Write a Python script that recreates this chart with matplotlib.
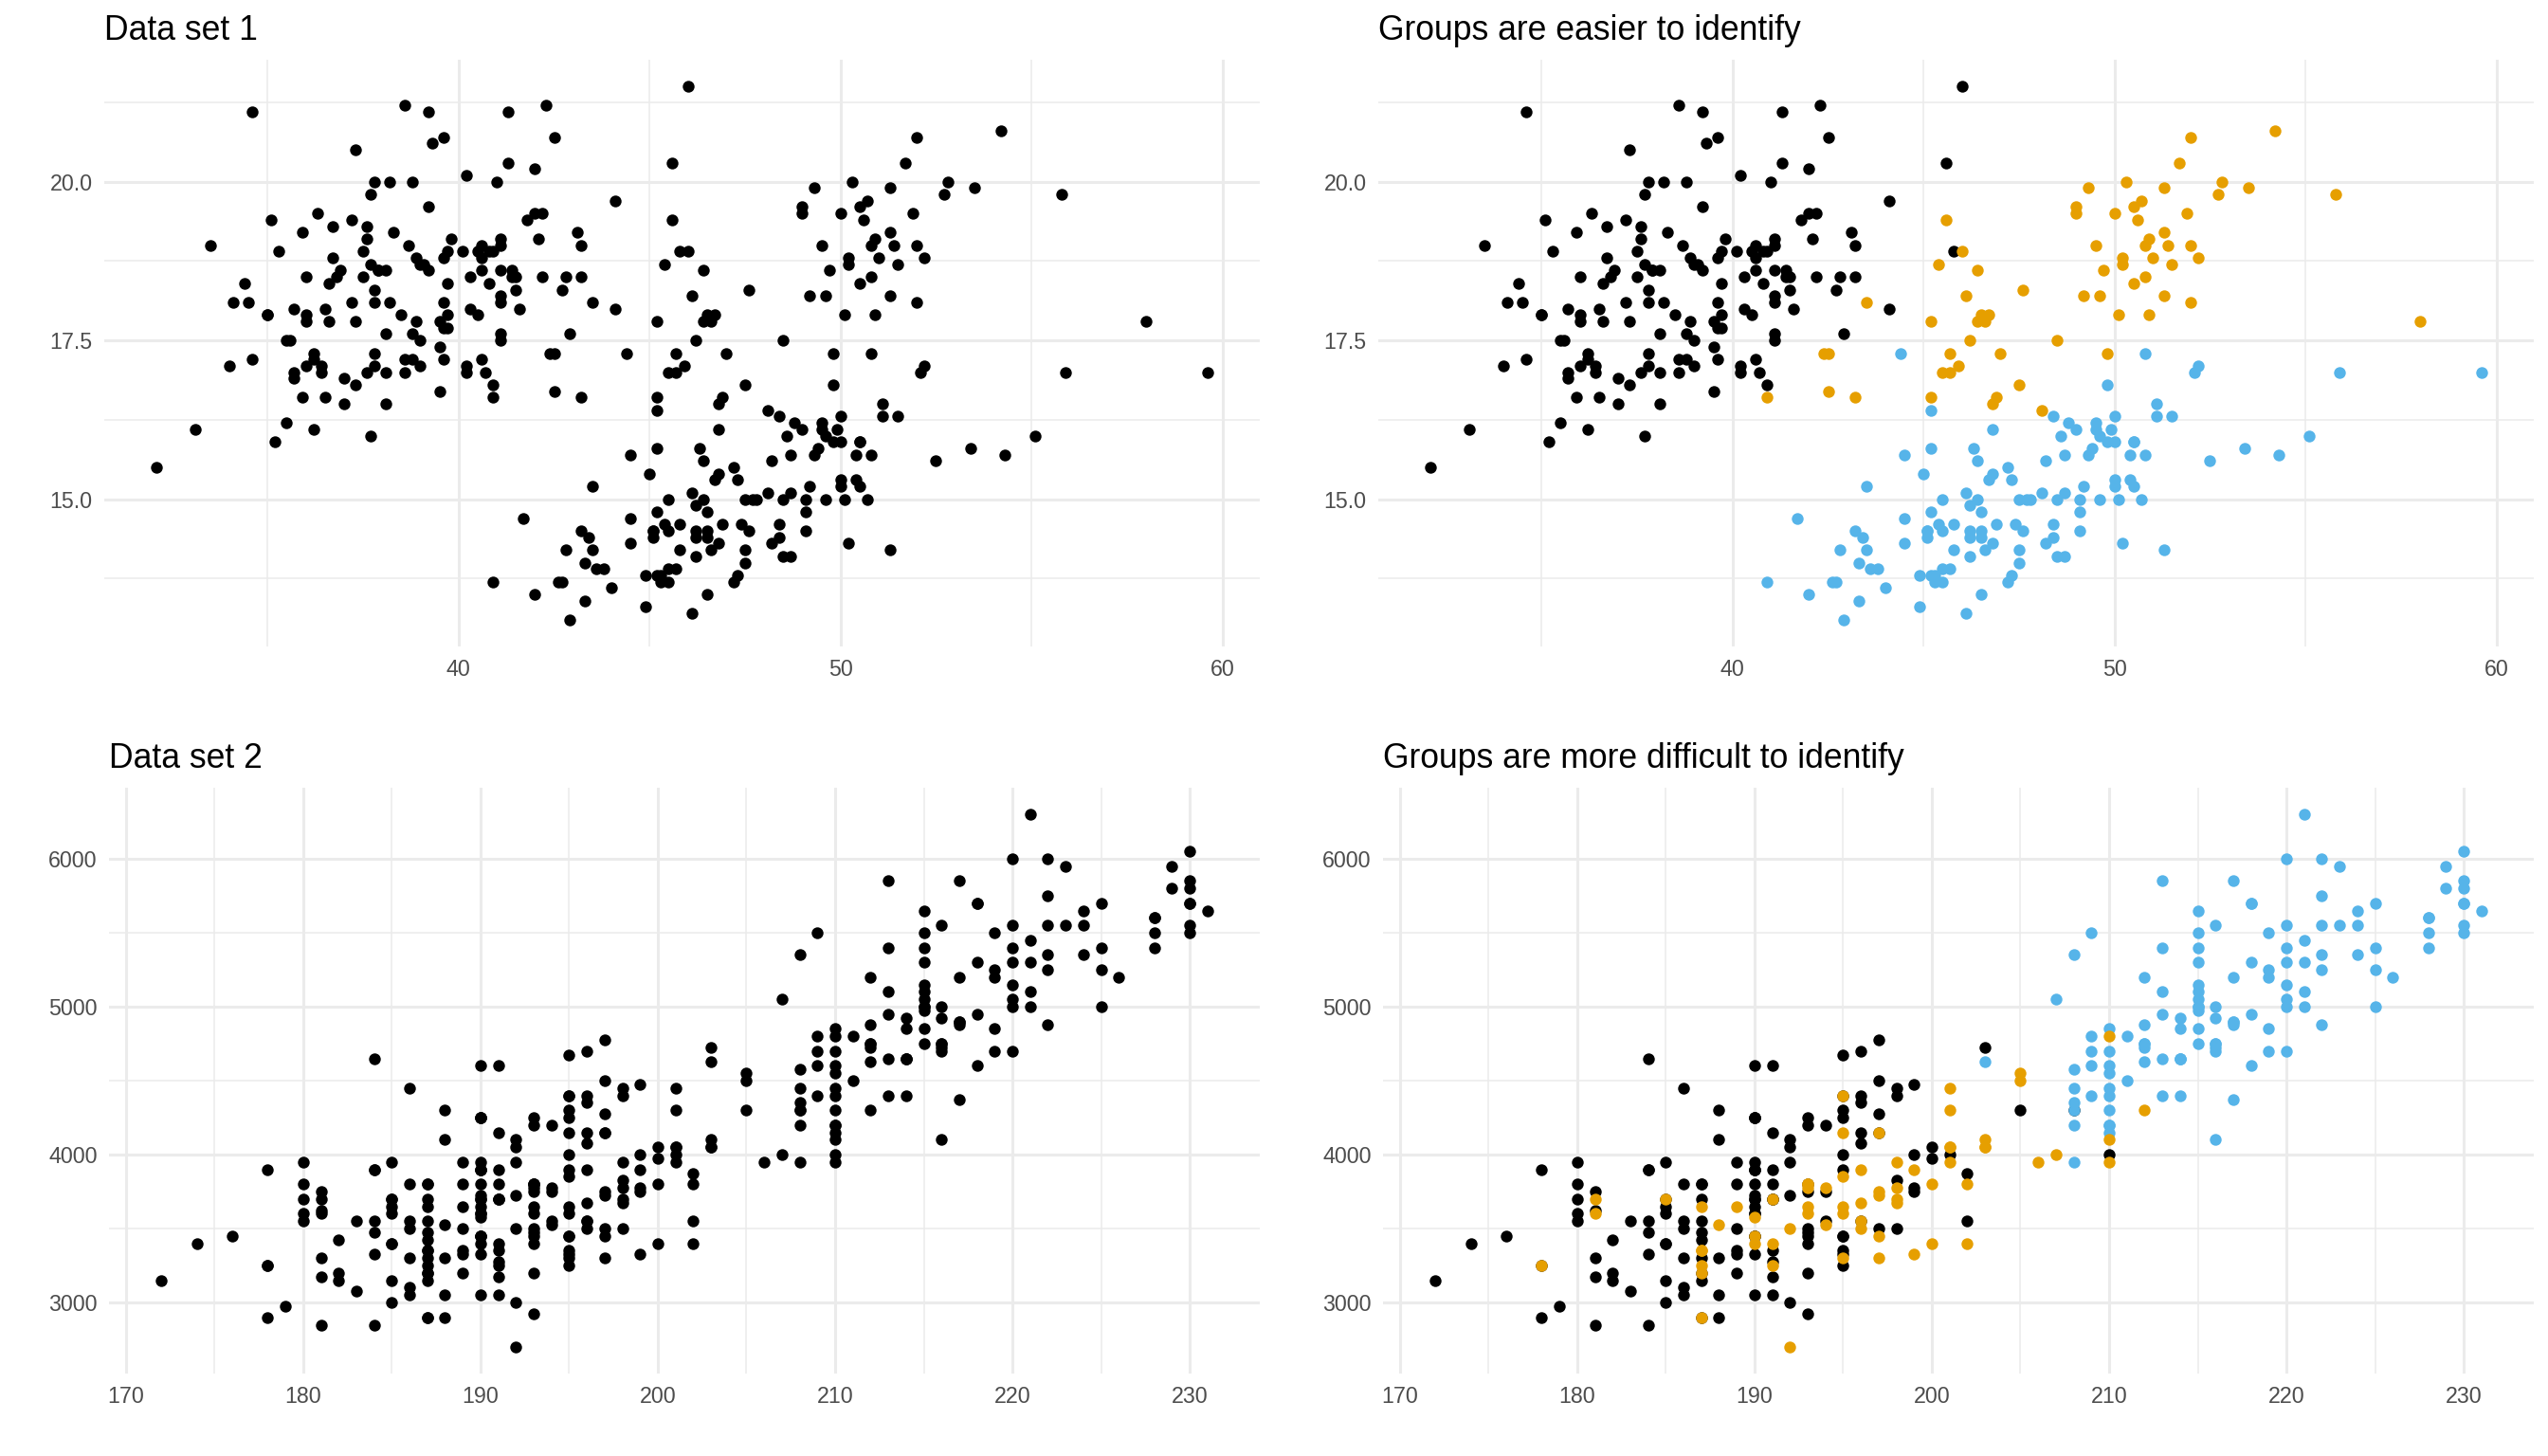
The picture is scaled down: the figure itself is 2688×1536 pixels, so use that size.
import numpy as np
import matplotlib
matplotlib.use("Agg")
import matplotlib.pyplot as plt

plt.rcParams['font.family'] = ['Liberation Sans', 'DejaVu Sans']

# palmer penguins, rows with missing values dropped, in data order
adelie_bill_length = [39.1, 39.5, 40.3, 36.7, 39.3, 38.9, 39.2, 34.1, 42.0, 37.8, 37.8, 41.1, 38.6, 34.6, 36.6, 38.7, 42.5, 34.4, 46.0,
                      37.8, 37.7, 35.9, 38.2, 38.8, 35.3, 40.6, 40.5, 37.9, 40.5,
                      39.5, 37.2, 39.5, 40.9, 36.4, 39.2, 38.8, 42.2, 37.6, 39.8, 36.5, 40.8, 36.0, 44.1, 37.0, 39.6, 41.1, 37.5, 36.0, 42.3,
                      39.6, 40.1, 35.0, 42.0, 34.5, 41.4, 39.0, 40.6, 36.5, 37.6, 35.7, 41.3, 37.6, 41.1, 36.4, 41.6, 35.5, 41.1,
                      35.9, 41.8, 33.5, 39.7, 39.6, 45.8, 35.5, 42.8, 40.9, 37.2, 36.2, 42.1, 34.6, 42.9, 36.7, 35.1,
                      37.3, 41.3, 36.3, 36.9, 38.3, 38.9, 35.7, 41.1, 34.0, 39.6, 36.2, 40.8, 38.1, 40.3, 33.1, 43.2,
                      35.0, 41.0, 37.7, 37.8, 37.9, 39.7, 38.6, 38.2, 38.1, 43.2, 38.1, 45.6, 39.7, 42.2, 39.6, 42.7,
                      38.6, 37.3, 35.7, 41.1, 36.2, 37.7, 40.2, 41.4, 35.2, 40.6, 38.8, 41.5, 39.0, 44.1, 38.5, 43.1,
                      36.8, 37.5, 38.1, 41.1, 35.6, 40.2, 37.0, 39.7, 40.2, 40.6, 32.1, 40.7, 37.3, 39.0, 39.2, 36.6, 36.0, 37.8, 36.0, 41.5]
adelie_bill_depth = [18.7, 17.4, 18.0, 19.3, 20.6, 17.8, 19.6, 18.1, 20.2, 17.1, 17.3, 17.6, 21.2, 21.1, 17.8, 19.0, 20.7, 18.4, 21.5,
                     18.3, 18.7, 19.2, 18.1, 17.2, 18.9, 18.6, 17.9, 18.6, 18.9,
                     16.7, 18.1, 17.8, 18.9, 17.0, 21.1, 20.0, 18.5, 19.3, 19.1, 18.0, 18.4, 18.5, 19.7, 16.9, 18.8, 19.0, 18.9, 17.9, 21.2,
                     17.7, 18.9, 17.9, 19.5, 18.1, 18.6, 17.5, 18.8, 16.6, 19.1, 16.9, 21.1, 17.0, 18.2, 17.1, 18.0, 16.2, 19.1,
                     16.6, 19.4, 19.0, 18.4, 17.2, 18.9, 17.5, 18.5, 16.8, 19.4, 16.1, 19.1, 17.2, 17.6, 18.8, 19.4,
                     17.8, 20.3, 19.5, 18.6, 19.2, 18.8, 18.0, 18.1, 17.1, 18.1, 17.3, 18.9, 18.6, 18.5, 16.1, 18.5,
                     17.9, 20.0, 16.0, 20.0, 18.6, 18.9, 17.2, 20.0, 17.0, 19.0, 16.5, 20.3, 17.7, 19.5, 20.7, 18.3,
                     17.0, 20.5, 17.0, 18.6, 17.2, 19.8, 17.0, 18.5, 15.9, 19.0, 17.6, 18.3, 17.1, 18.0, 17.9, 19.2,
                     18.5, 18.5, 17.6, 17.5, 17.5, 20.1, 16.5, 17.9, 17.1, 17.2, 15.5, 17.0, 16.8, 18.7, 18.6, 18.4, 17.8, 18.1, 17.1, 18.5]
adelie_flipper = [181, 186, 195, 193, 190, 181, 195, 193, 190, 186, 180, 182, 191, 198, 185, 195, 197, 184, 194,
                  174, 180, 189, 185, 180, 187, 183, 187, 172, 180,
                  178, 178, 188, 184, 195, 196, 190, 180, 181, 184, 182, 195, 186, 196, 185, 190, 182, 179, 190, 191,
                  186, 188, 190, 200, 187, 191, 186, 193, 181, 194, 185, 195, 185, 192, 184, 192, 195, 188,
                  190, 198, 190, 190, 196, 197, 190, 195, 191, 184, 187, 195, 189, 196, 187, 193,
                  191, 194, 190, 189, 189, 190, 202, 205, 185, 186, 187, 208, 190, 196, 178, 192,
                  192, 203, 183, 190, 193, 184, 199, 190, 181, 197, 198, 191, 193, 197, 191, 196,
                  188, 199, 189, 189, 187, 198, 176, 202, 186, 199, 191, 195, 191, 210, 190, 197,
                  193, 199, 187, 190, 191, 200, 185, 193, 193, 187, 188, 190, 192, 185, 190, 184, 195, 193, 187, 201]
adelie_mass = [3750, 3800, 3250, 3450, 3650, 3625, 4675, 3475, 4250, 3300, 3700, 3200, 3800, 4400, 3700, 3450, 4500, 3325, 4200,
               3400, 3600, 3800, 3950, 3800, 3800, 3550, 3200, 3150, 3950,
               3250, 3900, 3300, 3900, 3325, 4150, 3950, 3550, 3300, 4650, 3150, 3900, 3100, 4400, 3000, 4600, 3425, 2975, 3450, 4150,
               3500, 4300, 3450, 4050, 2900, 3700, 3550, 3800, 2850, 3750, 3150, 4400, 3600, 4050, 2850, 3950, 3350, 4100,
               3050, 4450, 3600, 3900, 3550, 4150, 3700, 4250, 3700, 3900, 3550, 4000, 3200, 4700, 3800, 4200,
               3350, 3550, 3800, 3500, 3950, 3600, 3550, 4300, 3400, 4450, 3300, 4300, 3700, 4350, 2900, 4100,
               3725, 4725, 3075, 4250, 2925, 3550, 3750, 3900, 3175, 4775, 3825, 4600, 3200, 4275, 3900, 4075,
               2900, 3775, 3350, 3325, 3150, 3500, 3450, 3875, 3050, 4000, 3275, 4300, 3050, 4000, 3325, 3500,
               3500, 4475, 3425, 3900, 3175, 3975, 3400, 4250, 3400, 3475, 3050, 3725, 3000, 3650, 4250, 3475, 3450, 3750, 3700, 4000]

gentoo_bill_length = [46.1, 50.0, 48.7, 50.0, 47.6, 46.5, 45.4, 46.7, 43.3, 46.8, 40.9, 49.0, 45.5, 48.4, 45.8, 49.3, 42.0, 49.2,
                      46.2, 48.7, 50.2, 45.1, 46.5, 46.3, 42.9, 46.1, 44.5, 47.8, 48.2, 50.0, 47.3, 42.8, 45.1, 59.6,
                      49.1, 48.4, 42.6, 44.4, 44.0, 48.7, 42.7, 49.6, 45.3, 49.6, 50.5, 43.6, 45.5, 50.5, 44.9, 45.2,
                      46.6, 48.5, 45.1, 50.1, 46.5, 45.0, 43.8, 45.5, 43.2, 50.4, 45.3, 46.2, 45.7, 54.3, 45.8, 49.8,
                      46.2, 49.5, 43.5, 50.7, 47.7, 46.4, 48.2, 46.5, 46.4, 48.6, 47.5, 51.1, 45.2, 45.2,
                      49.1, 52.5, 47.4, 50.0, 44.9, 50.8, 43.4, 51.3, 47.5, 52.1, 47.5, 52.2, 45.5, 49.5, 44.5, 50.8,
                      49.4, 46.9, 48.4, 51.1, 48.5, 55.9, 47.2, 49.1, 47.3, 46.8, 41.7, 53.4, 43.3, 48.1, 50.5, 49.8,
                      43.5, 51.5, 46.2, 55.1, 44.5, 48.8, 47.2, 46.8, 50.4, 45.2, 49.9]
gentoo_bill_depth = [13.2, 16.3, 14.1, 15.2, 14.5, 13.5, 14.6, 15.3, 13.4, 15.4, 13.7, 16.1, 13.7, 14.6, 14.6, 15.7, 13.5, 15.2,
                     14.5, 15.1, 14.3, 14.5, 14.5, 15.8, 13.1, 15.1, 14.3, 15.0, 14.3, 15.3, 15.3, 14.2, 14.5, 17.0,
                     14.8, 16.3, 13.7, 17.3, 13.6, 15.7, 13.7, 16.0, 13.7, 15.0, 15.9, 13.9, 13.9, 15.9, 13.3, 15.8,
                     14.2, 14.1, 14.4, 15.0, 14.4, 15.4, 13.9, 15.0, 14.5, 15.3, 13.8, 14.9, 13.9, 15.7, 14.2, 16.8,
                     14.4, 16.2, 14.2, 15.0, 15.0, 15.6, 15.6, 14.8, 15.0, 16.0, 14.2, 16.3, 13.8, 16.4,
                     14.5, 15.6, 14.6, 15.9, 13.8, 17.3, 14.4, 14.2, 14.0, 17.0, 15.0, 17.1, 14.5, 16.1, 14.7, 15.7,
                     15.8, 14.6, 14.4, 16.5, 15.0, 17.0, 15.5, 15.0, 13.8, 16.1, 14.7, 15.8, 14.0, 15.1, 15.2, 15.9,
                     15.2, 16.3, 14.1, 16.0, 15.7, 16.2, 13.7, 14.3, 15.7, 14.8, 16.1]
gentoo_flipper = [211, 230, 210, 218, 215, 210, 211, 219, 209, 215, 214, 216, 214, 213, 210, 217, 210, 221,
                  209, 222, 218, 215, 213, 215, 215, 215, 216, 215, 210, 220, 222, 209, 207, 230,
                  220, 220, 213, 219, 208, 208, 208, 225, 210, 216, 222, 217, 210, 225, 213, 215,
                  210, 220, 210, 225, 217, 220, 208, 220, 208, 224, 208, 221, 214, 231, 219, 230,
                  214, 229, 220, 223, 216, 221, 221, 217, 216, 230, 209, 220, 215, 223,
                  212, 221, 212, 224, 212, 228, 218, 218, 212, 230, 218, 228, 212, 224, 214, 226,
                  216, 222, 203, 225, 219, 228, 215, 228, 216, 215, 210, 219, 208, 209, 216, 229,
                  213, 230, 217, 230, 217, 222, 214, 215, 222, 212, 213]
gentoo_mass = [4500, 5700, 4450, 5700, 5400, 4550, 4800, 5200, 4400, 5150, 4650, 5550, 4650, 5850, 4200, 5850, 4150, 6300,
               4800, 5350, 5700, 5000, 4400, 5050, 5000, 5100, 4100, 5650, 4600, 5550, 5250, 4700, 5050, 6050,
               5150, 5400, 4950, 5250, 4350, 5350, 3950, 5700, 4300, 4750, 5550, 4900, 4200, 5400, 5100, 5300,
               4850, 5300, 4400, 5000, 4900, 5050, 4300, 5000, 4450, 5550, 4200, 5300, 4400, 5650, 4700, 5700,
               4650, 5800, 4700, 5550, 4750, 5000, 5100, 5200, 4700, 5800, 4600, 6000, 4750, 5950,
               4625, 5450, 4725, 5350, 4750, 5600, 4600, 5300, 4875, 5550, 4950, 5400, 4750, 5650, 4850, 5200,
               4925, 4875, 4625, 5250, 4850, 5600, 4975, 5500, 4725, 5500, 4700, 5500, 4575, 5500, 5000, 5950,
               4650, 5500, 4375, 5850, 4875, 6000, 4925, 4850, 5750, 5200, 5400]

chinstrap_bill_length = [46.5, 50.0, 51.3, 45.4, 52.7, 45.2, 46.1, 51.3, 46.0, 51.3, 46.6, 51.7, 47.0, 52.0, 45.9, 50.5, 50.3,
                         58.0, 46.4, 49.2, 42.4, 48.5, 43.2, 50.6, 46.7, 52.0, 50.5, 49.5, 46.4, 52.8, 40.9, 54.2, 42.5,
                         51.0, 49.7, 47.5, 47.6, 52.0, 46.9, 53.5, 49.0, 46.2, 50.9, 45.5, 50.9, 50.8, 50.1, 49.0, 51.5,
                         49.8, 48.1, 51.4, 45.7, 50.7, 42.5, 52.2, 45.2, 49.3, 50.2, 45.6, 51.9, 46.8, 45.7, 55.8, 43.5,
                         49.6, 50.8, 50.2]
chinstrap_bill_depth = [17.9, 19.5, 19.2, 18.7, 19.8, 17.8, 18.2, 18.2, 18.9, 19.9, 17.8, 20.3, 17.3, 18.1, 17.1, 19.6, 20.0,
                        17.8, 18.6, 18.2, 17.3, 17.5, 16.6, 19.4, 17.9, 19.0, 18.4, 19.0, 17.8, 20.0, 16.6, 20.8, 16.7,
                        18.8, 18.6, 16.8, 18.3, 20.7, 16.6, 19.9, 19.5, 17.5, 19.1, 17.0, 17.9, 18.5, 17.9, 19.6, 18.7,
                        17.3, 16.4, 19.0, 17.3, 19.7, 17.3, 18.8, 16.6, 19.9, 18.8, 19.4, 19.5, 16.5, 17.0, 19.8, 18.1,
                        18.2, 19.0, 18.7]
chinstrap_flipper = [192, 196, 193, 188, 197, 198, 178, 197, 195, 198, 193, 194, 185, 201, 190, 201, 197,
                     181, 190, 195, 181, 191, 187, 193, 195, 197, 200, 200, 191, 205, 187, 201, 187,
                     203, 195, 199, 195, 210, 192, 205, 210, 187, 196, 196, 196, 201, 190, 212, 187,
                     198, 199, 201, 193, 203, 187, 197, 191, 203, 202, 194, 206, 189, 195, 207, 202,
                     193, 210, 198]
chinstrap_mass = [3500, 3900, 3650, 3525, 3725, 3950, 3250, 3750, 4150, 3700, 3800, 3775, 3700, 4050, 3575, 4050, 3300,
                  3700, 3450, 4400, 3600, 3400, 2900, 3800, 3300, 4150, 3400, 3800, 3700, 4550, 3200, 4300, 3350,
                  4100, 3600, 3900, 3850, 4800, 2700, 4500, 3950, 3650, 3550, 3500, 3675, 4450, 3400, 4300, 3250,
                  3675, 3325, 3950, 3600, 4050, 3350, 3450, 3250, 4050, 3800, 3525, 3950, 3650, 3650, 4000, 3400,
                  3775, 4100, 3775]

species_colors = {'Adelie': '#000000', 'Gentoo': '#56B4E9', 'Chinstrap': '#E69F00'}

titles = ['Data set 1', 'Groups are easier to identify', 'Data set 2', 'Groups are more difficult to identify']

top_xticks = [40, 50, 60]
top_xminor = [35, 45, 55]
top_yticks = [15.0, 17.5, 20.0]
top_yminor = [13.75, 16.25, 18.75, 21.25]
bottom_xticks = [170, 180, 190, 200, 210, 220, 230]
bottom_xminor = [175, 185, 195, 205, 215, 225]
bottom_yticks = [3000, 4000, 5000, 6000]
bottom_yminor = [3500, 4500, 5500]

bill_length = {'Adelie': adelie_bill_length, 'Gentoo': gentoo_bill_length, 'Chinstrap': chinstrap_bill_length}
bill_depth = {'Adelie': adelie_bill_depth, 'Gentoo': gentoo_bill_depth, 'Chinstrap': chinstrap_bill_depth}
flipper = {'Adelie': adelie_flipper, 'Gentoo': gentoo_flipper, 'Chinstrap': chinstrap_flipper}
mass = {'Adelie': adelie_mass, 'Gentoo': gentoo_mass, 'Chinstrap': chinstrap_mass}

W, H = 2688, 1536
fig = plt.figure(figsize=(W / 200, H / 200), dpi=200)


def px_axes(x0, y0, x1, y1):
    # pixel box (top-left origin) -> figure axes
    return fig.add_axes([x0 / W, 1 - y1 / H, (x1 - x0) / W, (y1 - y0) / H])


axes = [px_axes(110, 63, 1329, 682), px_axes(1454, 63, 2673, 682),
        px_axes(115, 831, 1329, 1449), px_axes(1459, 831, 2673, 1449)]


def expand(vals):
    lo, hi = min(vals), max(vals)
    pad = (hi - lo) * 0.05
    return lo - pad, hi + pad


def style(ax, title, xt, xm, yt, ym, xlab, ylab):
    for s in ax.spines.values():
        s.set_visible(False)
    ax.set_xticks(xt)
    ax.set_xticklabels(xlab)
    ax.set_xticks(xm, minor=True)
    ax.set_yticks(yt)
    ax.set_yticklabels(ylab)
    ax.set_yticks(ym, minor=True)
    ax.grid(which='major', color='#EBEBEB', linewidth=1.1)
    ax.grid(which='minor', color='#EBEBEB', linewidth=0.55)
    ax.set_axisbelow(True)
    ax.tick_params(which='both', length=0, labelsize=8.4, labelcolor='#4D4D4D', pad=4.5)
    ax.set_title(title, loc='left', fontsize=12.8, pad=7.6)


order = ['Adelie', 'Gentoo', 'Chinstrap']
all_bl = sum((bill_length[s] for s in order), [])
all_bd = sum((bill_depth[s] for s in order), [])
all_fl = sum((flipper[s] for s in order), [])
all_bm = sum((mass[s] for s in order), [])

for i, ax in enumerate(axes):
    for sp in order:
        col = '#000000' if i in (0, 2) else species_colors[sp]
        if i < 2:
            ax.scatter(bill_length[sp], bill_depth[sp], s=20, c=col, linewidths=0, zorder=3)
        else:
            ax.scatter(flipper[sp], mass[sp], s=20, c=col, linewidths=0, zorder=3)
    if i < 2:
        ax.set_xlim(*expand(all_bl))
        ax.set_ylim(*expand(all_bd))
        style(ax, titles[i], top_xticks, top_xminor, top_yticks, top_yminor,
              [str(v) for v in top_xticks], ['%.1f' % v for v in top_yticks])
    else:
        ax.set_xlim(*expand(all_fl))
        ax.set_ylim(*expand(all_bm))
        style(ax, titles[i], bottom_xticks, bottom_xminor, bottom_yticks, bottom_yminor,
              [str(v) for v in bottom_xticks], [str(v) for v in bottom_yticks])

fig.savefig('out.png', dpi=200)
